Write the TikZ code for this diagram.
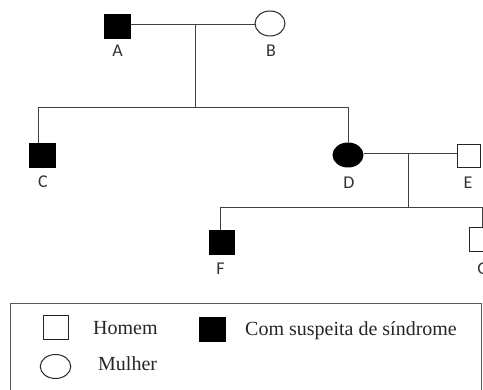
\documentclass[tikz,border=0pt]{standalone}
\usepackage{fontspec}
\setmainfont{Liberation Serif}
\newfontfamily\labelfont{Carlito}
\usetikzlibrary{shapes.geometric}
\begin{document}
\begin{tikzpicture}[x=1pt,y=-1pt,
  male/.style={draw=black!85, line width=1pt, rectangle, minimum width=25pt, minimum height=24pt, inner sep=0pt},
  female/.style={draw=black!85, line width=1pt, ellipse, minimum width=30pt, minimum height=24pt, inner sep=0pt},
  affected/.style={fill=black, draw=black},
  lbl/.style={font=\labelfont\fontsize{18}{18}\selectfont, text=black!80, inner sep=0pt},
  leg/.style={font=\fontsize{20}{20}\selectfont, inner sep=0pt, anchor=base west, text=black!85},
  link/.style={line width=1pt, draw=black!75}]
\useasboundingbox (0,0) rectangle (483,390);
\fill[white] (0,0) rectangle (483,390);

% generation I
\node[male, affected, minimum width=26pt] (A) at (117,27) {};
\node[female, minimum height=25pt] (B) at (270,23.5) {};
\node[lbl] (lA) at (117.5,51) {A};
\node[lbl] (lB) at (271,51) {B};

% generation II
\node[male, affected, minimum width=26pt] (C) at (42,156) {};
\node[female, affected] (D) at (348,155) {};
\node[male, minimum width=23pt, minimum height=22.5pt] (E) at (468.5,156) {};
\node[lbl] (lC) at (43,181.5) {C};
\node[lbl] (lD) at (349,182.5) {D};
\node[lbl] (lE) at (468,182.5) {E};

% generation III
\node[male, affected, minimum height=23.5pt] (F) at (221.5,242.5) {};
\node[male] (G) at (482,240) {};
\node[lbl] (lF) at (220.5,269) {F};
\node[lbl] (lG) at (483,269) {G};

% connectors
\coordinate (ab) at (195,25);
\coordinate (abdown) at (195,108);
\coordinate (s1) at (38,108);
\coordinate (s2) at (348,108);
\draw[link] (A.east |- ab) -- (B.west |- ab);
\draw[link] (ab) -- (abdown);
\draw[link] (s1 |- C.north) -- (s1) -- (s2) -- (D.north);

\coordinate (de) at (408,154);
\coordinate (dedown) at (408,208);
\coordinate (s3) at (220,208);
\coordinate (s4) at (482,208);
\draw[link] (D.east |- de) -- (E.west |- de);
\draw[link] (de) -- (dedown);
\draw[link] (s3 |- F.north) -- (s3) -- (s4) -- (G.north);

% legend
\draw[line width=1pt, draw=black!65] (10,303.5) rectangle (481.5,396);
\node[male, minimum width=25.5pt, minimum height=23.5pt] (legM) at (56,327.5) {};
\node[male, affected, minimum width=26.5pt] (legA) at (212.5,329.5) {};
\node[female, minimum width=30.5pt] (legF) at (55.5,366.5) {};
\node[leg] (tM) at (93,335) {Homem};
\node[leg] (tA) at (245,336) {Com suspeita de síndrome};
\node[leg] (tF) at (98,371) {Mulher};
\end{tikzpicture}
\end{document}
